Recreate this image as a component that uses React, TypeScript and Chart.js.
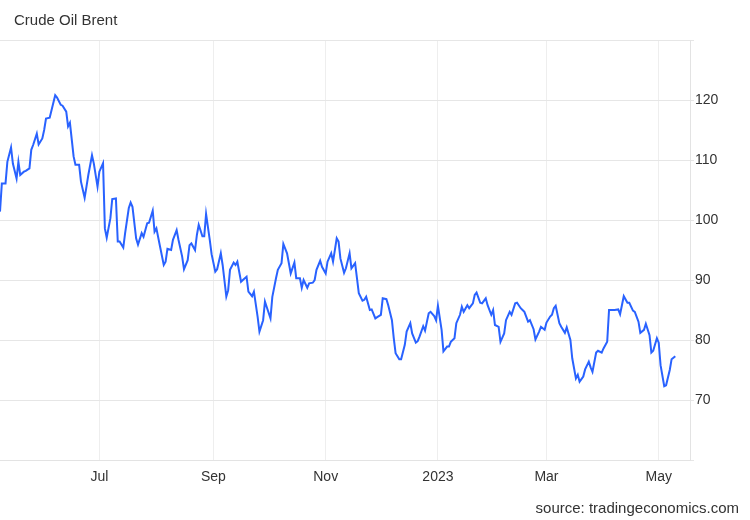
import React, { useEffect, useRef } from "react";
import { Chart, registerables } from "chart.js";

Chart.register(...registerables);

const TITLE = "Crude Oil Brent";
const SOURCE = "source: tradingeconomics.com";

const dates: string[] = [
  "2022-05-08", "2022-05-09", "2022-05-11", "2022-05-12", "2022-05-14", "2022-05-15", "2022-05-17", "2022-05-18", "2022-05-19", "2022-05-21", "2022-05-22", "2022-05-24", "2022-05-25", "2022-05-26", "2022-05-28", "2022-05-29", "2022-05-31",
  "2022-06-01", "2022-06-02", "2022-06-04", "2022-06-05", "2022-06-07", "2022-06-08", "2022-06-10", "2022-06-11", "2022-06-13", "2022-06-14", "2022-06-15", "2022-06-17", "2022-06-18", "2022-06-20", "2022-06-21", "2022-06-23", "2022-06-24", "2022-06-25", "2022-06-27", "2022-06-28", "2022-06-30",
  "2022-07-01", "2022-07-03", "2022-07-04", "2022-07-05", "2022-07-07", "2022-07-08", "2022-07-10", "2022-07-11", "2022-07-12", "2022-07-14", "2022-07-15", "2022-07-17", "2022-07-18", "2022-07-19", "2022-07-21", "2022-07-22", "2022-07-24", "2022-07-25", "2022-07-27", "2022-07-28", "2022-07-30", "2022-07-31",
  "2022-08-01", "2022-08-03", "2022-08-05", "2022-08-06", "2022-08-07", "2022-08-09", "2022-08-10", "2022-08-12", "2022-08-13", "2022-08-15", "2022-08-16", "2022-08-18", "2022-08-19", "2022-08-20", "2022-08-22", "2022-08-23", "2022-08-24", "2022-08-26", "2022-08-27", "2022-08-28", "2022-08-30", "2022-08-31",
  "2022-09-02", "2022-09-03", "2022-09-05", "2022-09-06", "2022-09-08", "2022-09-09", "2022-09-10", "2022-09-12", "2022-09-13", "2022-09-14", "2022-09-16", "2022-09-17", "2022-09-19", "2022-09-20", "2022-09-22", "2022-09-23", "2022-09-25", "2022-09-26", "2022-09-28", "2022-09-29", "2022-09-30",
  "2022-10-02", "2022-10-03", "2022-10-05", "2022-10-06", "2022-10-08", "2022-10-09", "2022-10-11", "2022-10-12", "2022-10-13", "2022-10-15", "2022-10-16", "2022-10-18", "2022-10-19", "2022-10-20", "2022-10-22", "2022-10-23", "2022-10-25", "2022-10-26", "2022-10-27", "2022-10-29", "2022-10-30",
  "2022-11-01", "2022-11-02", "2022-11-04", "2022-11-05", "2022-11-07", "2022-11-08", "2022-11-09", "2022-11-11", "2022-11-12", "2022-11-14", "2022-11-15", "2022-11-17", "2022-11-18", "2022-11-19", "2022-11-21", "2022-11-22", "2022-11-23", "2022-11-25", "2022-11-26", "2022-11-28", "2022-11-29",
  "2022-12-01", "2022-12-02", "2022-12-04", "2022-12-05", "2022-12-07", "2022-12-08", "2022-12-09", "2022-12-11", "2022-12-12", "2022-12-14", "2022-12-15", "2022-12-17", "2022-12-18", "2022-12-20", "2022-12-21", "2022-12-22", "2022-12-24", "2022-12-25", "2022-12-27", "2022-12-28", "2022-12-30", "2022-12-31",
  "2023-01-01", "2023-01-03", "2023-01-04", "2023-01-06", "2023-01-07", "2023-01-08", "2023-01-10", "2023-01-11", "2023-01-13", "2023-01-14", "2023-01-15", "2023-01-17", "2023-01-18", "2023-01-20", "2023-01-21", "2023-01-22", "2023-01-24", "2023-01-25", "2023-01-27", "2023-01-28", "2023-01-30", "2023-01-31",
  "2023-02-01", "2023-02-03", "2023-02-04", "2023-02-06", "2023-02-07", "2023-02-09", "2023-02-10", "2023-02-12", "2023-02-13", "2023-02-15", "2023-02-16", "2023-02-17", "2023-02-19", "2023-02-20", "2023-02-22", "2023-02-23", "2023-02-25", "2023-02-26", "2023-02-28",
  "2023-03-01", "2023-03-03", "2023-03-04", "2023-03-05", "2023-03-06", "2023-03-08", "2023-03-09", "2023-03-11", "2023-03-12", "2023-03-14", "2023-03-15", "2023-03-17", "2023-03-18", "2023-03-19", "2023-03-21", "2023-03-22", "2023-03-24", "2023-03-25", "2023-03-26", "2023-03-28", "2023-03-29", "2023-03-31",
  "2023-04-01", "2023-04-03", "2023-04-04", "2023-04-06", "2023-04-07", "2023-04-09", "2023-04-10", "2023-04-11", "2023-04-12", "2023-04-14", "2023-04-15", "2023-04-17", "2023-04-18", "2023-04-20", "2023-04-21", "2023-04-23", "2023-04-24", "2023-04-26", "2023-04-27", "2023-04-28", "2023-04-30",
  "2023-05-01", "2023-05-02", "2023-05-04", "2023-05-05", "2023-05-07", "2023-05-08", "2023-05-10",
];

const prices: number[] = [
  101.4, 106.1, 106.1, 109.7, 112.1, 109.4, 106.9, 109.7, 107.5, 108.05, 108.2, 108.6, 111.7, 112.5, 114.4, 112.6, 113.6,
  115.0, 116.9, 117.05, 118.3, 120.8, 120.4, 119.2, 119.05, 118.05, 115.6, 116.2, 110.6, 109.2, 109.2, 106.4, 103.7, 105.55, 107.5, 110.8, 109.4, 105.55,
  108.05, 109.45, 98.6, 97.05, 100.3, 103.5, 103.6, 96.4, 96.4, 95.4, 97.8, 102.0, 102.9, 102.2, 96.9, 95.9, 97.8, 97.2, 99.45, 99.55, 101.55, 98.05,
  98.6, 95.55, 92.5, 93.05, 95.2, 95.0, 96.7, 98.3, 96.7, 93.9, 91.8, 93.3, 95.8, 96.1, 95.0, 97.5, 99.2, 97.3, 97.3, 101.0, 96.7, 94.3,
  91.4, 91.8, 94.45, 92.5, 87.25, 88.3, 91.7, 92.9, 92.5, 93.05, 89.7, 90.0, 90.55, 88.05, 87.3, 88.05, 83.9, 81.4, 83.3, 86.4, 85.45,
  83.6, 87.2, 90.3, 91.7, 92.8, 96.0, 94.45, 92.8, 91.1, 92.9, 90.3, 90.3, 88.7, 90.0, 88.7, 89.45, 89.55, 90.0, 91.7, 93.2, 92.2,
  91.1, 93.05, 94.45, 93.05, 96.95, 96.4, 93.6, 91.2, 91.95, 94.45, 91.95, 92.8, 90.3, 87.8, 86.55, 86.7, 87.2, 85.0, 85.1, 83.6, 83.8,
  84.2, 86.95, 86.8, 85.8, 83.3, 80.3, 77.8, 76.8, 76.8, 79.2, 81.4, 82.8, 81.1, 79.55, 79.8, 80.55, 82.3, 81.55, 84.45, 84.7, 84.0, 83.3,
  85.7, 81.7, 78.1, 78.9, 78.9, 79.7, 80.3, 82.8, 84.2, 85.55, 84.7, 85.8, 85.3, 86.1, 87.5, 87.9, 86.2, 86.1, 86.95, 85.8, 84.2, 85.0,
  82.5, 82.2, 79.7, 81.1, 83.3, 84.7, 84.2, 86.1, 86.2, 85.3, 85.0, 84.7, 83.05, 83.3, 81.8, 80.1, 81.4, 82.2, 81.7,
  82.9, 83.9, 84.2, 85.3, 85.7, 82.8, 82.2, 81.2, 82.1, 80.0, 76.95, 73.6, 74.2, 73.05, 73.9, 75.1, 76.4, 75.45, 74.7, 77.9, 78.2, 77.9,
  78.6, 79.7, 85.0, 85.0, 85.0, 85.1, 84.3, 85.8, 87.3, 86.2, 86.2, 84.9, 84.7, 83.05, 81.2, 81.7, 82.7, 80.8, 77.9, 78.2, 80.3,
  79.55, 75.8, 72.3, 72.45, 75.0, 76.8, 77.3,
];

const xTickDates = ["2022-07-01", "2022-09-01", "2022-11-01", "2023-01-01", "2023-03-01", "2023-05-01"];
const xTickLabels = ["Jul", "Sep", "Nov", "2023", "Mar", "May"];
const xRange = ["2022-05-08", "2023-05-18"];
const yTickValues = [60, 70, 80, 90, 100, 110, 120, 130];

const FONT = "'Liberation Sans', Arial, Helvetica, sans-serif";
const LINE_COLOR = "#2962ff";

const toDay = (iso: string) => {
  const [y, m, d] = iso.split("-").map(Number);
  return Date.UTC(y, m - 1, d) / 86400000;
};

const textPlugin = {
  id: "headerFooterText",
  afterDraw(chart: any) {
    const ctx = chart.ctx;
    ctx.save();
    ctx.fillStyle = "#333333";
    ctx.font = `15px ${FONT}`;
    ctx.textBaseline = "alphabetic";
    ctx.textAlign = "left";
    ctx.fillText(TITLE, 14, 25);
    ctx.textAlign = "right";
    ctx.fillText(SOURCE, 739, 513);
    ctx.restore();
  },
};

export default function App() {
  const canvasRef = useRef<HTMLCanvasElement | null>(null);

  useEffect(() => {
    if (!canvasRef.current) return;
    const points = dates.map((d, i) => ({ x: toDay(d), y: prices[i] }));
    const yMin = yTickValues[0];
    const yMax = yTickValues[yTickValues.length - 1];
    const chart = new Chart(canvasRef.current, {
      type: "line",
      data: {
        datasets: [
          {
            label: TITLE,
            data: points,
            borderColor: LINE_COLOR,
            borderWidth: 2,
            pointRadius: 0,
            tension: 0,
            fill: false,
          },
        ],
      },
      options: {
        responsive: false,
        animation: false,
        events: [],
        layout: { padding: { top: 40, left: 0, right: 0, bottom: 0 } },
        plugins: {
          legend: { display: false },
          tooltip: { enabled: false },
          title: { display: false },
        },
        scales: {
          x: {
            type: "linear",
            min: toDay(xRange[0]),
            max: toDay(xRange[1]),
            afterBuildTicks: (scale: any) => {
              scale.ticks = xTickDates.map((d) => ({ value: toDay(d) }));
            },
            afterFit: (scale: any) => {
              scale.height = 60;
            },
            grid: { color: "#eeeeee", drawTicks: false, lineWidth: 1 },
            border: { display: true, color: "#e3e3e3" },
            ticks: {
              autoSkip: false,
              maxRotation: 0,
              padding: 9,
              color: "#333333",
              font: { size: 14, family: FONT },
              callback: (_v: any, i: number) => xTickLabels[i] ?? "",
            },
          },
          y: {
            position: "right",
            min: yMin,
            max: yMax,
            afterBuildTicks: (scale: any) => {
              scale.ticks = yTickValues.map((v) => ({ value: v }));
            },
            afterFit: (scale: any) => {
              scale.width = 60;
            },
            grid: { color: "#e6e6e6", tickLength: 4, lineWidth: 1 },
            border: { display: true, color: "#e3e3e3" },
            ticks: {
              padding: 1,
              color: "#333333",
              font: { size: 14, family: FONT },
              callback: (v: any) => (v === yMin || v === yMax ? "" : String(v)),
            },
          },
        },
      },
      plugins: [textPlugin],
    } as any);
    return () => chart.destroy();
  }, []);

  return (
    <div style={{ position: "absolute", left: 0, top: 0, width: 750, height: 520, background: "#ffffff" }}>
      <canvas ref={canvasRef} width={750} height={520} style={{ display: "block" }} />
    </div>
  );
}
